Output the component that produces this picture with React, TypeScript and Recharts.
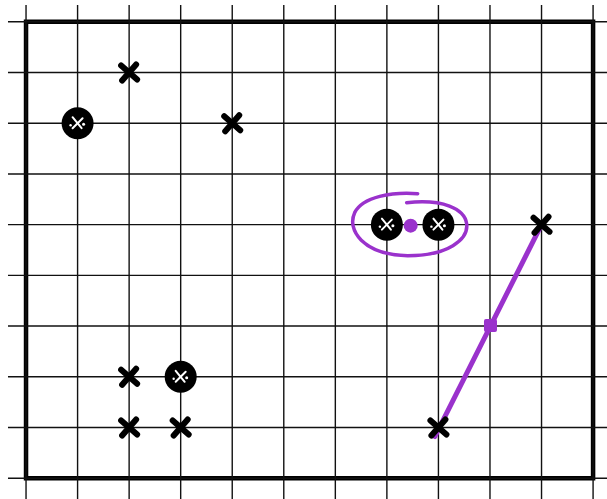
import { ScatterChart, Scatter, XAxis, YAxis, ReferenceLine, ReferenceArea } from 'recharts';

// grid cells: 11 columns by 9 rows
const xTicks = [0, 1, 2, 3, 4, 5, 6, 7, 8, 9, 10, 11];
const yTicks = [0, 1, 2, 3, 4, 5, 6, 7, 8, 9];

// crosses
const crossX = [2, 4, 10, 2, 2, 3, 8];
const crossY = [8, 7, 5, 2, 1, 1, 1];

// circled crosses
const ringX = [1, 7, 8, 3];
const ringY = [7, 5, 5, 2];

// midpoint of the circled pair, and of the drawn segment
const dotX = [7.5];
const dotY = [5];
const squareX = [9];
const squareY = [3];

// the drawn segment
const segX = [7.93, 10];
const segY = [0.82, 5];

const PURPLE = '#9a32cc';

const toPoints = (xs: number[], ys: number[]) => xs.map((x, i) => ({ x, y: ys[i] }));

const Cross = (props: any) => {
  const { cx, cy } = props;
  const r = 8;
  return (
    <g stroke="#000" strokeWidth={6} strokeLinecap="round">
      <line x1={cx - r} y1={cy - r + 1} x2={cx + r} y2={cy + r - 1} />
      <line x1={cx - r + 1} y1={cy + r} x2={cx + r - 1} y2={cy - r} />
    </g>
  );
};

const Ring = (props: any) => {
  const { cx, cy } = props;
  return (
    <g>
      <circle cx={cx} cy={cy} r={16} fill="#000" />
      <g stroke="#fff" strokeWidth={2} strokeLinecap="round">
        <line x1={cx - 5} y1={cy - 6} x2={cx + 4} y2={cy + 5} />
        <line x1={cx - 5} y1={cy + 5} x2={cx + 5} y2={cy - 5} />
        <circle cx={cx + 6} cy={cy + 1} r={1.5} fill="#fff" stroke="none" />
        <circle cx={cx - 7} cy={cy + 2} r={1.2} fill="#fff" stroke="none" />
      </g>
    </g>
  );
};

const Dot = (props: any) => <circle cx={props.cx - 2} cy={props.cy + 1} r={7} fill={PURPLE} />;

const Square = (props: any) => (
  <rect x={props.cx - 6} y={props.cy - 7} width={13} height={13} rx={2} fill={PURPLE} />
);

// loose hand-drawn loop around the circled pair, centred on the midpoint dot
const Loop = (props: any) => {
  const { cx, cy } = props;
  const p = (dx: number, dy: number) => `${cx + dx},${cy + dy}`;
  const d =
    `M${p(5, -31)} C${p(-20, -33)} ${p(-50, -28)} ${p(-58, -12)} ` +
    `C${p(-66, 5)} ${p(-50, 30)} ${p(-5, 31)} ` +
    `C${p(35, 31)} ${p(56, 15)} ${p(54, -1)} ` +
    `C${p(52, -16)} ${p(30, -26)} ${p(-6, -22)}`;
  return <path d={d} fill="none" stroke={PURPLE} strokeWidth={3.5} strokeLinecap="round" />;
};

const pairs = toPoints(segX, segY);

export default function App() {
  return (
    <div style={{ position: 'absolute', left: 0, top: 0, background: '#fff' }}>
      <ScatterChart width={607} height={499} margin={{ top: 0, right: 0, bottom: 0, left: 0 }}>
        <XAxis type="number" dataKey="x" domain={[-0.505, 11.27]} hide allowDataOverflow />
        <YAxis type="number" dataKey="y" domain={[-0.41, 9.43]} hide allowDataOverflow />
        {xTicks.map((x) => (
          <ReferenceLine
            key={`vx-${x}`}
            segment={[{ x, y: -0.41 }, { x, y: 9.33 }]}
            stroke="#111"
            strokeWidth={1.4}
            ifOverflow="visible"
          />
        ))}
        {yTicks.map((y) => (
          <ReferenceLine
            key={`hy-${y}`}
            segment={[{ x: -0.35, y }, { x: 11.27, y }]}
            stroke="#111"
            strokeWidth={1.4}
            ifOverflow="visible"
          />
        ))}
        <ReferenceArea
          x1={0}
          x2={11}
          y1={0}
          y2={9}
          fill="none"
          fillOpacity={0}
          stroke="#000"
          strokeWidth={4.5}
          ifOverflow="visible"
        />
        <ReferenceLine
          segment={pairs as any}
          stroke={PURPLE}
          strokeWidth={5}
          strokeLinecap="round"
          ifOverflow="visible"
        />
        <Scatter data={toPoints(crossX, crossY)} shape={<Cross />} isAnimationActive={false} />
        <Scatter data={toPoints(ringX, ringY)} shape={<Ring />} isAnimationActive={false} />
        <Scatter data={toPoints(dotX, dotY)} shape={<Loop />} isAnimationActive={false} />
        <Scatter data={toPoints(dotX, dotY)} shape={<Dot />} isAnimationActive={false} />
        <Scatter data={toPoints(squareX, squareY)} shape={<Square />} isAnimationActive={false} />
      </ScatterChart>
    </div>
  );
}
